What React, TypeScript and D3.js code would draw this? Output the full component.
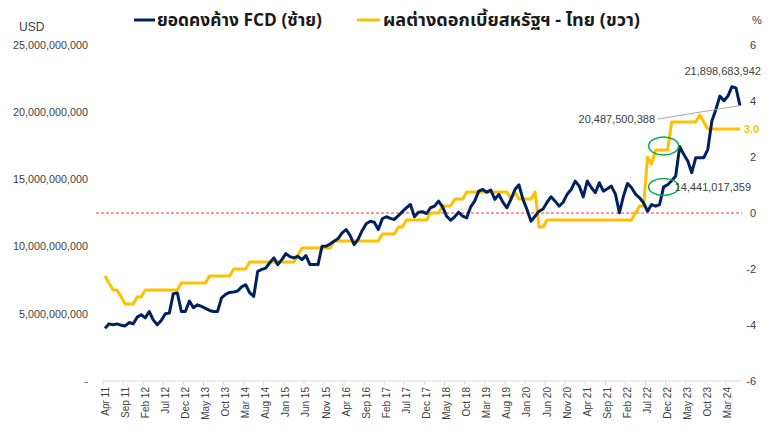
import { scaleLinear, scalePoint, line, timeMonth, timeFormat, format } from "d3";

// monthly, Apr 2011 .. Jun 2024
const START = new Date(2011, 3, 1);
const MONTHS = timeMonth.range(START, new Date(2024, 6, 1));
const fmtMonth = timeFormat("%b %y");
const CATEGORIES = MONTHS.map(d => fmtMonth(d));

// outstanding FCD, USD billion (left axis)
const FCD_BN = [
  3.93, 4.25, 4.18, 4.25, 4.15, 4.10, 4.35, 4.25, 4.75, 4.93,
  4.70, 5.17, 4.55, 4.18, 4.50, 5.00, 5.05, 6.50, 6.55, 5.17,
  5.17, 5.95, 5.45, 5.67, 5.55, 5.40, 5.25, 5.17, 5.17, 6.19,
  6.45, 6.59, 6.62, 6.70, 7.00, 7.16, 6.57, 6.29, 8.16, 8.30,
  8.40, 8.80, 9.16, 8.66, 9.03, 9.48, 9.25, 9.16, 9.28, 9.03,
  9.33, 8.66, 8.66, 8.66, 10.02, 10.02, 10.20, 10.40, 10.60, 11.02,
  11.27, 10.82, 10.15, 10.55, 11.20, 11.70, 11.89, 11.81, 11.27, 12.07,
  12.22, 12.10, 12.02, 12.30, 12.60, 12.89, 13.13, 12.22, 12.56, 12.60,
  12.46, 12.89, 13.01, 13.38, 12.96, 12.26, 11.96, 12.22, 12.56, 12.26,
  12.14, 12.96, 13.40, 14.13, 14.25, 14.05, 14.20, 13.51, 13.88, 13.31,
  12.89, 13.51, 14.25, 14.60, 13.51, 12.76, 11.89, 12.26, 12.63, 12.80,
  13.30, 13.71, 13.38, 13.01, 13.30, 13.90, 14.25, 14.87, 14.50, 13.70,
  14.87, 14.40, 14.01, 14.75, 14.13, 14.30, 14.50, 13.90, 12.52, 13.75,
  14.70, 14.40, 13.90, 13.63, 13.26, 12.63, 13.13, 13.01, 13.13, 14.44,
  14.60, 14.90, 15.25, 17.44, 16.87, 16.37, 15.50, 16.62, 16.62, 16.62,
  17.24, 19.35, 20.20, 21.20, 20.85, 21.20, 21.90, 21.80, 20.49,
];

// US - Thai policy rate spread, % (right axis)
const SPREAD = [
  -2.25, -2.5, -2.75, -2.75, -3.0, -3.25, -3.25, -3.25, -3.0, -3.0,
  -2.75, -2.75, -2.75, -2.75, -2.75, -2.75, -2.75, -2.75, -2.75, -2.5,
  -2.5, -2.5, -2.5, -2.5, -2.5, -2.5, -2.25, -2.25, -2.25, -2.25,
  -2.25, -2.25, -2.0, -2.0, -2.0, -2.0, -1.75, -1.75, -1.75, -1.75,
  -1.75, -1.75, -1.75, -1.75, -1.75, -1.75, -1.75, -1.75, -1.5, -1.25,
  -1.25, -1.25, -1.25, -1.25, -1.25, -1.25, -1.25, -1.0, -1.0, -1.0,
  -1.0, -1.0, -1.0, -1.0, -1.0, -1.0, -1.0, -1.0, -1.0, -0.75,
  -0.75, -0.75, -0.75, -0.5, -0.5, -0.25, -0.25, -0.25, -0.25, -0.25,
  -0.25, 0, 0, 0, 0.25, 0.25, 0.25, 0.5, 0.5, 0.5,
  0.75, 0.75, 0.75, 0.75, 0.75, 0.75, 0.75, 0.75, 0.75, 0.75,
  0.75, 0.5, 0.75, 0.5, 0.5, 0.5, 0.5, 0.75, -0.5, -0.5,
  -0.25, -0.25, -0.25, -0.25, -0.25, -0.25, -0.25, -0.25, -0.25, -0.25,
  -0.25, -0.25, -0.25, -0.25, -0.25, -0.25, -0.25, -0.25, -0.25, -0.25,
  -0.25, -0.25, 0, 0.25, 0.25, 2.0, 1.75, 2.25, 2.25, 2.25,
  2.25, 3.25, 3.25, 3.25, 3.25, 3.25, 3.25, 3.25, 3.5, 3.25,
  3.0, 3.0, 3.0, 3.0, 3.0, 3.0, 3.0, 3.0, 3.0,
];

const LEFT_TICKS = [0, 5, 10, 15, 20, 25];
const RIGHT_TICKS = [-6, -4, -2, 0, 2, 4, 6];
const LABEL_EVERY = 5;

const LEGEND = ["ยอดคงค้าง FCD (ซ้าย)", "ผลต่างดอกเบี้ยสหรัฐฯ - ไทย (ขวา)"];
const PEAK_LABEL = "21,898,683,942";
const LAST_LABEL = "20,487,500,388";
const MARK_LABEL = "14,441,017,359";
const PEAK_IDX = 156;
const MARK_IDX = 139;

const W = 771;
const H = 429;
const PLOT = { left: 103, right: 742, top: 45, bottom: 381 };

const NAVY = "#002060";
const GOLD = "#ffc000";
const TEXT = "#404040";
const FONT = "'Liberation Sans', Arial, sans-serif";
const THAI_FONT = "'Noto Sans Thai', 'Noto Sans', 'Liberation Sans', sans-serif";

export default function App() {
  const x = scalePoint<string>()
    .domain(CATEGORIES)
    .range([PLOT.left, PLOT.right])
    .padding(0.5);
  const step = x.step();

  const yLeft = scaleLinear().domain([0, 25]).range([PLOT.bottom, PLOT.top]);
  const yRight = scaleLinear().domain([-6, 6]).range([PLOT.bottom, PLOT.top]);

  const fcdPath = line<number>()
    .x((_, i) => x(CATEGORIES[i])!)
    .y(d => yLeft(d))(FCD_BN) ?? "";
  const spreadPath = line<number>()
    .x((_, i) => x(CATEGORIES[i])!)
    .y(d => yRight(d))(SPREAD) ?? "";

  const fmtLeft = format(",");
  const lastIdx = CATEGORIES.length - 1;
  const lastX = x(CATEGORIES[lastIdx])!;
  const lastY = yLeft(FCD_BN[lastIdx]);
  const markX = x(CATEGORIES[MARK_IDX])!;

  return (
    <svg
      width={W}
      height={H}
      style={{ position: "absolute", left: 0, top: 0, background: "#fff" }}
    >
      {/* LEGEND */}
      <text x={19} y={31} fontFamily={FONT} fontSize={12} fill={TEXT}>USD</text>
      <text x={757} y={24} fontFamily={FONT} fontSize={11} fill={TEXT} textAnchor="middle">%</text>
      <line x1={134} x2={155} y1={20} y2={20} stroke={NAVY} strokeWidth={3} />
      <text
        x={157}
        y={26}
        fontFamily={THAI_FONT}
        fontSize={17}
        fontWeight="bold"
        fill="#1a1a1a"
        textLength={165}
        lengthAdjust="spacingAndGlyphs"
      >
        {LEGEND[0]}
      </text>
      <line x1={357} x2={380} y1={20} y2={20} stroke={GOLD} strokeWidth={3} />
      <text
        x={383}
        y={26}
        fontFamily={THAI_FONT}
        fontSize={17}
        fontWeight="bold"
        fill="#1a1a1a"
        textLength={257}
        lengthAdjust="spacingAndGlyphs"
      >
        {LEGEND[1]}
      </text>

      {/* LEFT AXIS */}
      {LEFT_TICKS.map(t => (
        <text
          key={t}
          x={88}
          y={yLeft(t)}
          dy="0.35em"
          textAnchor="end"
          fontFamily={FONT}
          fontSize={10.8}
          fill={TEXT}
        >
          {t === 0 ? "-" : fmtLeft(t * 1e9)}
        </text>
      ))}

      {/* RIGHT AXIS */}
      {RIGHT_TICKS.map(t => (
        <text
          key={t}
          x={756}
          y={yRight(t)}
          dy="0.35em"
          textAnchor="end"
          fontFamily={FONT}
          fontSize={11}
          fill={TEXT}
        >
          {t}
        </text>
      ))}

      {/* ZERO LINE (right axis) */}
      <line
        x1={96}
        x2={742}
        y1={yRight(0)}
        y2={yRight(0)}
        stroke="#ff0000"
        strokeWidth={0.8}
        strokeDasharray="3,2"
      />

      {/* X AXIS */}
      <line x1={PLOT.left} x2={PLOT.right} y1={PLOT.bottom} y2={PLOT.bottom} stroke="#d9d9d9" />
      {CATEGORIES.map((c, i) =>
        i % LABEL_EVERY === 0 ? (
          <g key={c}>
            <line
              x1={x(c)! - step / 2}
              x2={x(c)! - step / 2}
              y1={PLOT.bottom}
              y2={PLOT.bottom + 4}
              stroke="#d9d9d9"
            />
            <text
              transform={`translate(${x(c)! + 3.5},${PLOT.bottom + 6}) rotate(-90)`}
              textAnchor="end"
              fontFamily={FONT}
              fontSize={10}
              fill={TEXT}
            >
              {c}
            </text>
          </g>
        ) : null
      )}

      {/* SERIES */}
      <path d={spreadPath} fill="none" stroke={GOLD} strokeWidth={3} strokeLinejoin="round" />
      <path d={fcdPath} fill="none" stroke={NAVY} strokeWidth={3} strokeLinejoin="round" />

      {/* ANNOTATIONS */}
      <ellipse cx={markX} cy={yRight(SPREAD[MARK_IDX]) - 4} rx={15} ry={9} fill="none" stroke="#00b050" strokeWidth={1.5} />
      <ellipse cx={markX} cy={yLeft(FCD_BN[MARK_IDX])} rx={15} ry={8.5} fill="none" stroke="#00b050" strokeWidth={1.5} />
      <text
        x={markX + 11}
        y={yLeft(FCD_BN[MARK_IDX])}
        dy="0.35em"
        fontFamily={FONT}
        fontSize={11}
        fill={TEXT}
      >
        {MARK_LABEL}
      </text>
      <text
        x={x(CATEGORIES[PEAK_IDX])! + 29}
        y={yLeft(FCD_BN[PEAK_IDX]) - 12}
        textAnchor="end"
        fontFamily={FONT}
        fontSize={11}
        fill={TEXT}
      >
        {PEAK_LABEL}
      </text>
      <line x1={658} y1={119} x2={lastX} y2={lastY} stroke="#a6a6a6" strokeWidth={1} />
      <text x={655} y={119} dy="0.35em" textAnchor="end" fontFamily={FONT} fontSize={11} fill={TEXT}>
        {LAST_LABEL}
      </text>
      <text
        x={lastX + 4}
        y={yRight(SPREAD[lastIdx])}
        dy="0.35em"
        fontFamily={FONT}
        fontSize={11}
        fontWeight="bold"
        fill={GOLD}
      >
        {SPREAD[lastIdx].toFixed(1)}
      </text>
    </svg>
  );
}
